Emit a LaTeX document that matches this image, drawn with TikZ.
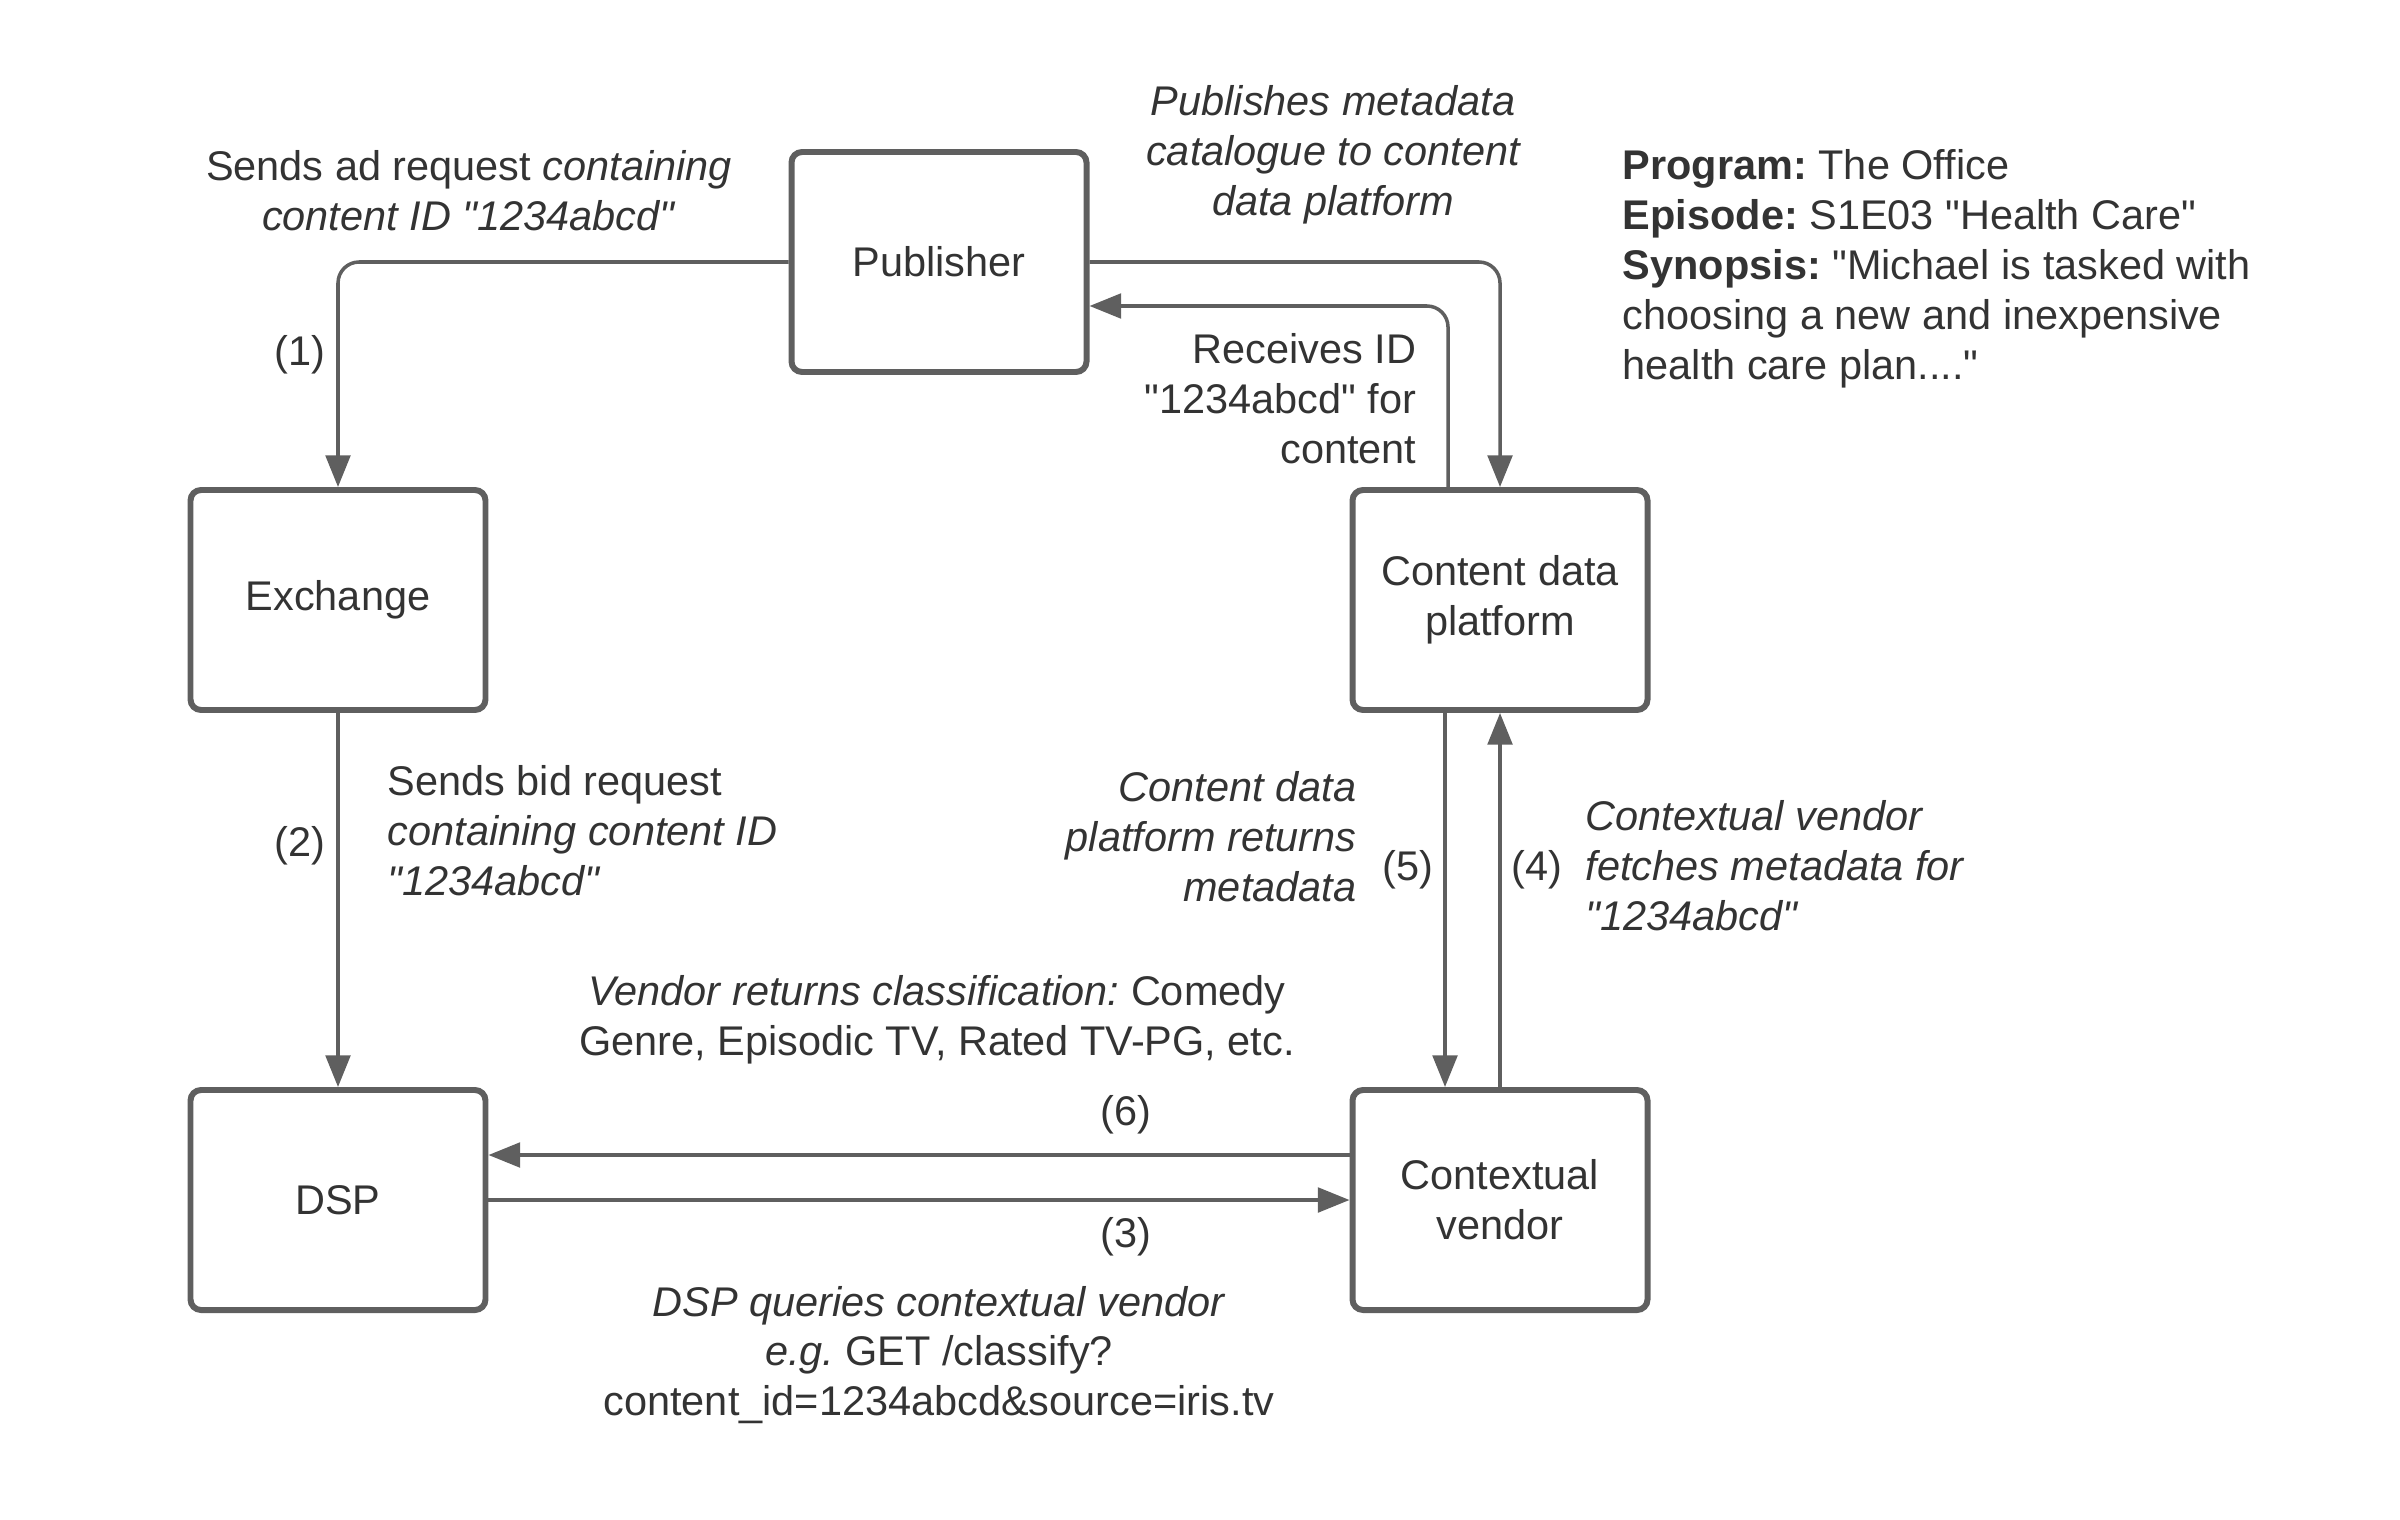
\documentclass[tikz,border=0pt]{standalone}
\usepackage{fontspec}
\setmainfont{Liberation Sans}[Ligatures=TeXOff]
\frenchspacing
\usetikzlibrary{arrows.meta}
\definecolor{linegray}{HTML}{5F5F5F}
\definecolor{textgray}{HTML}{333333}

\begin{document}
\begin{tikzpicture}[
  every node/.style={font=\fontsize{11.8}{14.2}\selectfont, text=textgray},
  box/.style={draw=linegray, line width=1.7pt, rounded corners=3pt,
    minimum width=2.95cm, minimum height=2.2cm, align=center},
  flow/.style={draw=linegray, line width=1pt, rounded corners=6pt,
    -{Triangle[length=9pt,width=7pt]}},
  note/.style={inner sep=0pt}]
  \useasboundingbox (0,0) rectangle (24,-15.19);

  % Boxes
  \node[box] (pub)  at (9.39,-2.62)  {Publisher};
  \node[box] (exch) at (3.38,-6.00)  {Exchange};
  \node[box] (dsp)  at (3.38,-12.00) {DSP};
  \node[box] (cdp)  at (15.00,-6.00) {Content data\\platform};
  \node[box] (cv)   at (15.00,-12.00) {Contextual\\vendor};

  % Connectors
  \draw[flow] (pub.west) -| (exch.north);
  \draw[flow] (pub.east) -| (cdp.north);
  \draw[flow] ([xshift=-0.52cm]cdp.north) |- ([yshift=-0.44cm]pub.east);
  \draw[flow] (exch) -- (dsp);
  \draw[flow] (dsp) -- (cv);
  \draw[flow] ([yshift=0.45cm]cv.west) -- ([yshift=0.45cm]dsp.east);
  \draw[flow] ([xshift=-0.55cm]cdp.south) -- ([xshift=-0.55cm]cv.north);
  \draw[flow] (cv) -- (cdp);

  % Step numbers
  \node (s1) at (3.00,-3.55)  {(1)};
  \node (s2) at (3.00,-8.46)  {(2)};
  \node (s3) at (11.26,-12.37) {(3)};
  \node (s4) at (15.37,-8.70) {(4)};
  \node (s5) at (14.08,-8.70) {(5)};
  \node (s6) at (11.26,-11.15) {(6)};

  % Step descriptions
  \node[note, align=center] (adreq) at (4.69,-1.905)
    {Sends ad request \textit{containing}\\\textit{content ID "1234abcd"}};
  \node[note, align=center, font=\fontsize{11.8}{14.2}\selectfont\itshape] (publish) at (13.33,-1.545)
    {Publishes metadata\\catalogue to content\\data platform};
  \node[note, align=right, anchor=east] (receive) at (14.17,-3.99)
    {Receives ID\\"1234abcd" for\\content};
  \node[note, align=left, anchor=west] (bidreq) at (3.87,-8.31)
    {Sends bid request\\\textit{containing content ID}\\\textit{"1234abcd"}};
  \node[note, align=right, anchor=east, font=\fontsize{11.8}{14.2}\selectfont\itshape] (cdpret) at (13.57,-8.37)
    {Content data\\platform returns\\metadata};
  \node[note, align=left, anchor=west, font=\fontsize{11.8}{14.2}\selectfont\itshape] (fetch) at (15.85,-8.66)
    {Contextual vendor\\fetches metadata for\\"1234abcd"};
  \node[note, align=center] (vendret) at (9.37,-10.195)
    {\textit{Vendor returns classification:} Comedy\\Genre, Episodic TV, Rated TV-PG, etc.};
  \node[note, align=center] (query) at (9.39,-13.55)
    {\textit{DSP queries contextual vendor}\\\textit{e.g.} GET /classify?\\content\_id=1234abcd\&source=iris.tv};

  % Programme info
  \node[note, align=left, anchor=west] (info) at (16.22,-2.69)
    {\textbf{Program:} The Office\\\textbf{Episode:} S1E03 "Health Care"\\\textbf{Synopsis:} "Michael is tasked with\\choosing a new and inexpensive\\health care plan...."};
\end{tikzpicture}
\end{document}
